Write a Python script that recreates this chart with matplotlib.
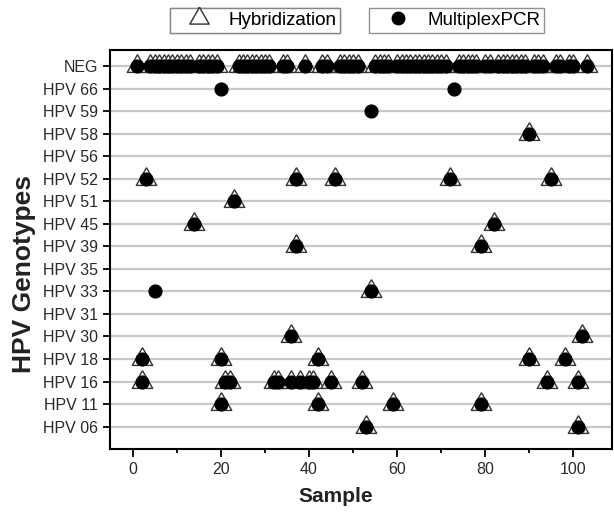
import matplotlib.pyplot as plt
from matplotlib.lines import Line2D
from matplotlib.ticker import MultipleLocator

plt.rcParams['font.family'] = ['Liberation Sans', 'DejaVu Sans']

# genotype rows, top to bottom
genotypes = ['NEG', 'HPV 66', 'HPV 59', 'HPV 58', 'HPV 56', 'HPV 52', 'HPV 51',
             'HPV 45', 'HPV 39', 'HPV 35', 'HPV 33', 'HPV 31', 'HPV 30',
             'HPV 18', 'HPV 16', 'HPV 11', 'HPV 06']

# samples found by hybridization, per genotype
neg = [1, 4, 5, 6, 7, 8, 9, 10, 11, 12, 13, 15, 16, 17, 18, 19,
       24, 25, 26, 27, 28, 29, 30, 31, 34, 35, 39, 43, 44,
       47, 48, 49, 50, 51, 55, 56, 57, 58,
       60, 61, 62, 63, 64, 65, 66, 67, 68, 69, 70, 71,
       74, 75, 76, 77, 78, 80, 81, 83, 84, 85, 86, 87, 88, 89,
       91, 92, 93, 96, 97, 99, 100, 103]
hpv66 = []
hpv59 = []
hpv58 = [90]
hpv56 = []
hpv52 = [3, 37, 46, 72, 95]
hpv51 = [23]
hpv45 = [14, 82]
hpv39 = [37, 79]
hpv35 = []
hpv33 = [54]
hpv31 = []
hpv30 = [36, 102]
hpv18 = [2, 20, 42, 90, 98]
hpv16 = [2, 21, 22, 32, 33, 36, 38, 40, 41, 45, 52, 94, 101]
hpv11 = [20, 42, 59, 79]
hpv06 = [53, 101]

hybridization = [neg, hpv66, hpv59, hpv58, hpv56, hpv52, hpv51, hpv45, hpv39,
                 hpv35, hpv33, hpv31, hpv30, hpv18, hpv16, hpv11, hpv06]

# samples found only by multiplex PCR
pcr_only = {'HPV 66': [20, 73], 'HPV 59': [54], 'HPV 33': [5]}

# equilateral triangle with its centre on the data point
tri = [(0, 1), (-0.866, -0.5), (0.866, -0.5), (0, 1)]

fig = plt.figure(figsize=(6.14, 5.18), dpi=100)
ax = fig.add_axes([0.179, 0.133, 0.818, 0.770])

n = len(genotypes)
for i, g in enumerate(genotypes):
    row = n - 1 - i
    hyb = hybridization[i]
    pcr = hyb + pcr_only.get(g, [])
    if hyb:
        ax.plot(hyb, [row] * len(hyb), ls='none', marker=tri, ms=17,
                mfc='white', mec='#333333', mew=1.0, zorder=3)
    if pcr:
        ax.plot(pcr, [row] * len(pcr), ls='none', marker='o', ms=9.2,
                color='black', zorder=4)

ax.set_xlim(-5.2, 108.8)
ax.set_ylim(-1, n - 0.3)
ax.set_yticks(range(n))
ax.set_yticklabels(genotypes[::-1], fontsize=11.5, color='#2a2a2a')
ax.xaxis.set_major_locator(MultipleLocator(20))
ax.xaxis.set_minor_locator(MultipleLocator(10))
ax.tick_params(axis='x', which='major', direction='out', length=6, width=1.3,
               labelsize=11.5, labelcolor='#2a2a2a')
ax.tick_params(axis='x', which='minor', direction='out', length=3, width=1.3)
ax.tick_params(axis='y', direction='out', length=5, width=1.3)
ax.yaxis.grid(True, color='#c8c8c8', lw=1.6)
ax.set_axisbelow(True)
for s in ax.spines.values():
    s.set_linewidth(1.5)

ax.set_xlabel('Sample', fontsize=15, fontweight='bold', color='#222222')
ax.set_ylabel('HPV Genotypes', fontsize=19, fontweight='bold', color='#222222')
ax.xaxis.set_label_coords(0.45, -0.095)
ax.yaxis.set_label_coords(-0.148, 0.44)

h1 = Line2D([], [], ls='none', marker=tri, ms=16, mfc='white', mec='#333333', mew=1.0)
h2 = Line2D([], [], ls='none', marker='o', ms=9, color='black')
leg_kw = dict(loc='center', fontsize=13.5, fancybox=False, edgecolor='#777777',
              handletextpad=0.3, borderpad=0.2, handlelength=2.6)
leg1 = fig.legend([h1], ['Hybridization'], bbox_to_anchor=(0.416, 0.961), **leg_kw)
leg2 = fig.legend([h2], ['MultiplexPCR'], bbox_to_anchor=(0.744, 0.961), **leg_kw)
fig.add_artist(leg1)

fig.savefig('out.png', dpi=100)
